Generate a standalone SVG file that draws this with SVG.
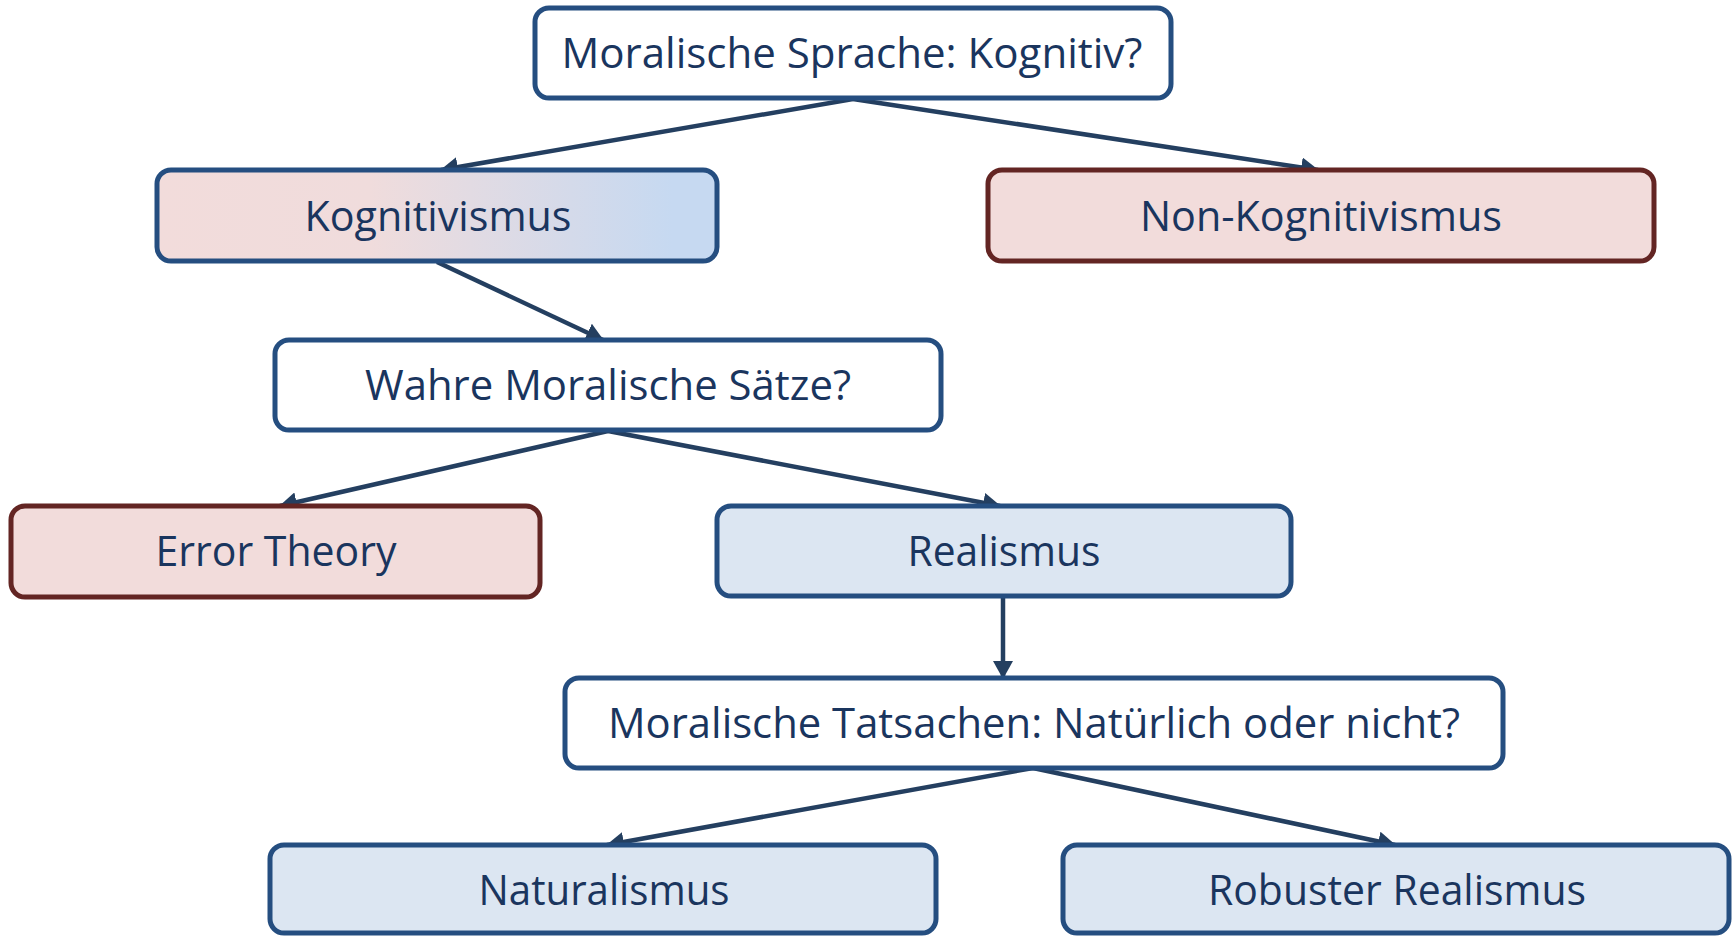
<svg xmlns="http://www.w3.org/2000/svg" width="1736" height="937" viewBox="0 0 1736 937">
<defs>
<linearGradient id="kg" x1="0" y1="0" x2="1" y2="0">
<stop offset="0" stop-color="#F2DCDB"/>
<stop offset="0.38" stop-color="#F0DCDC"/>
<stop offset="0.92" stop-color="#C6D9F1"/>
<stop offset="1" stop-color="#C6D9F1"/>
</linearGradient>
<marker id="ah" markerUnits="userSpaceOnUse" viewBox="0 0 18 20" markerWidth="18" markerHeight="20" refX="17" refY="10" orient="auto">
<path d="M0,0 L18,10 L0,20 z" fill="#243F60"/>
</marker>
<style>
.box{stroke-width:5;}
.blue{stroke:#254E80;}
.red{stroke:#632523;}
.white{fill:#FFFFFF;}
.pink{fill:#F2DCDB;}
.lblue{fill:#DCE6F2;}
.t{font-family:"Open Sans","Noto Sans","Liberation Sans",sans-serif;font-size:42px;fill:#1A355E;text-anchor:middle;}
.c{stroke:#243F60;stroke-width:4.5;fill:none;marker-end:url(#ah);}
</style>
</defs>
<rect width="1736" height="937" fill="#FFFFFF"/>
<g id="connectors">
<line class="c" x1="853" y1="99" x2="441" y2="170"/>
<line class="c" x1="853" y1="99" x2="1318" y2="170"/>
<line class="c" x1="437" y1="262" x2="603" y2="340"/>
<line class="c" x1="608" y1="431" x2="280" y2="506"/>
<line class="c" x1="608" y1="431" x2="1000" y2="506"/>
<line class="c" x1="1003" y1="597" x2="1003" y2="678"/>
<line class="c" x1="1033" y1="768" x2="607" y2="845"/>
<line class="c" x1="1033" y1="768" x2="1395" y2="845"/>
</g>
<g id="n-moralische-sprache">
<rect class="box blue white" x="535" y="8" width="636" height="90" rx="14"/>
<text class="t" x="852" y="68" textLength="581" lengthAdjust="spacingAndGlyphs">Moralische Sprache: Kognitiv?</text>
</g>
<g id="n-kognitivismus">
<rect class="box blue" fill="url(#kg)" x="157" y="170" width="560" height="91" rx="14"/>
<text class="t" x="438" y="231" textLength="267" lengthAdjust="spacingAndGlyphs">Kognitivismus</text>
</g>
<g id="n-non-kognitivismus">
<rect class="box red pink" x="988" y="170" width="666" height="91" rx="14"/>
<text class="t" x="1321" y="231" textLength="362" lengthAdjust="spacingAndGlyphs">Non-Kognitivismus</text>
</g>
<g id="n-wahre">
<rect class="box blue white" x="275" y="340" width="666" height="90" rx="14"/>
<text class="t" x="608" y="400" textLength="486" lengthAdjust="spacingAndGlyphs">Wahre Moralische Sätze?</text>
</g>
<g id="n-error-theory">
<rect class="box red pink" x="11" y="506" width="529" height="91" rx="14"/>
<text class="t" x="276" y="566" textLength="241" lengthAdjust="spacingAndGlyphs">Error Theory</text>
</g>
<g id="n-realismus">
<rect class="box blue lblue" x="717" y="506" width="574" height="90" rx="14"/>
<text class="t" x="1004" y="566" textLength="193" lengthAdjust="spacingAndGlyphs">Realismus</text>
</g>
<g id="n-tatsachen">
<rect class="box blue white" x="565" y="678" width="938" height="90" rx="14"/>
<text class="t" x="1034" y="738" textLength="852" lengthAdjust="spacingAndGlyphs">Moralische Tatsachen: Natürlich oder nicht?</text>
</g>
<g id="n-naturalismus">
<rect class="box blue lblue" x="270" y="845" width="666" height="88" rx="14"/>
<text class="t" x="604" y="905" textLength="251" lengthAdjust="spacingAndGlyphs">Naturalismus</text>
</g>
<g id="n-robuster-realismus">
<rect class="box blue lblue" x="1063" y="845" width="666" height="88" rx="14"/>
<text class="t" x="1397" y="905" textLength="378" lengthAdjust="spacingAndGlyphs">Robuster Realismus</text>
</g>
</svg>
